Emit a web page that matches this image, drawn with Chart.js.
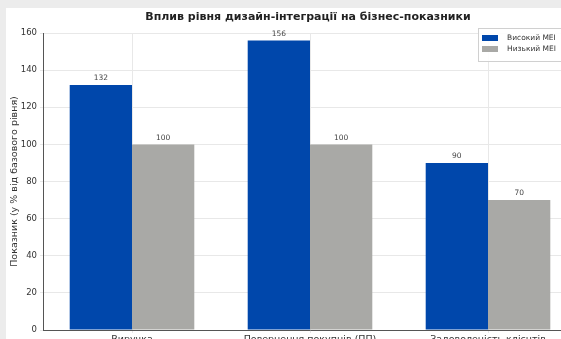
<!DOCTYPE html>
<html>
<head>
<meta charset="utf-8">
<script src="https://cdn.jsdelivr.net/npm/chart.js@4.4.1/dist/chart.umd.min.js"></script>
<style>
  html, body { margin: 0; padding: 0; background: #ececec; overflow: hidden; width: 561px; height: 339px; }
  #wrap { position: absolute; left: 6px; top: 8px; width: 600px; height: 345px; background: #fff; }
</style>
</head>
<body>
<div id="wrap"><canvas id="myChart" width="600" height="345"></canvas></div>
<script>
// data
const categories = ['Виручка', 'Повернення покупців (ПП)', 'Задоволеність клієнтів'];
const highValues = [132, 156, 90];
const lowValues = [100, 100, 70];
const seriesNames = ['Високий МЕІ', 'Низький МЕІ'];
const yTicks = [0, 20, 40, 60, 80, 100, 120, 140, 160];

const blue = '#0047AB';
const grey = '#A9A9A6';

// title + value labels + legend drawn on top
const extras = {
  id: 'extras',
  afterDatasetsDraw(chart) {
    const c = chart.ctx;
    c.save();
    // title
    c.fillStyle = '#222';
    c.font = 'bold 11px "DejaVu Sans"';
    c.textAlign = 'center';
    c.textBaseline = 'middle';
    c.fillText('Вплив рівня дизайн-інтеграції на бізнес-показники', 302, 9);

    // numbers above bars
    c.font = '7.5px "DejaVu Sans"';
    c.fillStyle = '#444';
    c.textBaseline = 'bottom';
    chart.data.datasets.forEach((ds, i) => {
      chart.getDatasetMeta(i).data.forEach((bar, j) => {
        c.fillText(ds.data[j], bar.x, bar.y - 3);
      });
    });

    // legend box in upper right
    const lx = 472, ly = 20;
    c.fillStyle = 'rgba(255,255,255,0.9)';
    c.strokeStyle = '#d0d0d0';
    c.lineWidth = 1;
    c.fillRect(lx, ly, 110, 33);
    c.strokeRect(lx + 0.5, ly + 0.5, 110, 33);
    c.textAlign = 'left';
    c.textBaseline = 'middle';
    c.font = '7.5px "DejaVu Sans"';
    [blue, grey].forEach((col, i) => {
      const yy = ly + 10 + i * 11;
      c.fillStyle = col;
      c.fillRect(lx + 4, yy - 3, 16, 6);
      c.fillStyle = '#333';
      c.fillText(seriesNames[i], lx + 29, yy);
    });
    c.restore();
  }
};

const ctx = document.getElementById('myChart').getContext('2d');
new Chart(ctx, {
  type: 'bar',
  data: {
    labels: categories,
    datasets: [
      { label: seriesNames[0], data: highValues, backgroundColor: blue, barPercentage: 1.0, categoryPercentage: 0.7 },
      { label: seriesNames[1], data: lowValues, backgroundColor: grey, barPercentage: 1.0, categoryPercentage: 0.7 }
    ]
  },
  options: {
    responsive: false,
    animation: false,
    layout: { padding: { top: 25, right: 29, left: 0, bottom: 0 } },
    plugins: { legend: { display: false }, tooltip: { enabled: false }, title: { display: false } },
    scales: {
      x: {
        afterFit(s) { s.height = 23; },
        grid: { offset: false, color: '#e8e8e8', drawTicks: true, tickLength: 3 },
        border: { color: '#555' },
        ticks: { color: '#333', font: { family: 'DejaVu Sans', size: 9.5 }, padding: 1, maxRotation: 0 }
      },
      y: {
        min: 0,
        max: 160,
        afterFit(s) { s.width = 37; },
        afterBuildTicks(s) { s.ticks = yTicks.map(v => ({ value: v })); },
        grid: { color: '#e8e8e8', tickLength: 3 },
        border: { color: '#555' },
        ticks: { color: '#333', font: { family: 'DejaVu Sans', size: 8.5 }, padding: 3 },
        title: { display: true, text: 'Показник (у % від базового рівня)', color: '#333', font: { family: 'DejaVu Sans', size: 9.5 }, padding: { top: 3, bottom: 0 } }
      }
    }
  },
  plugins: [extras]
});
</script>
</body>
</html>
